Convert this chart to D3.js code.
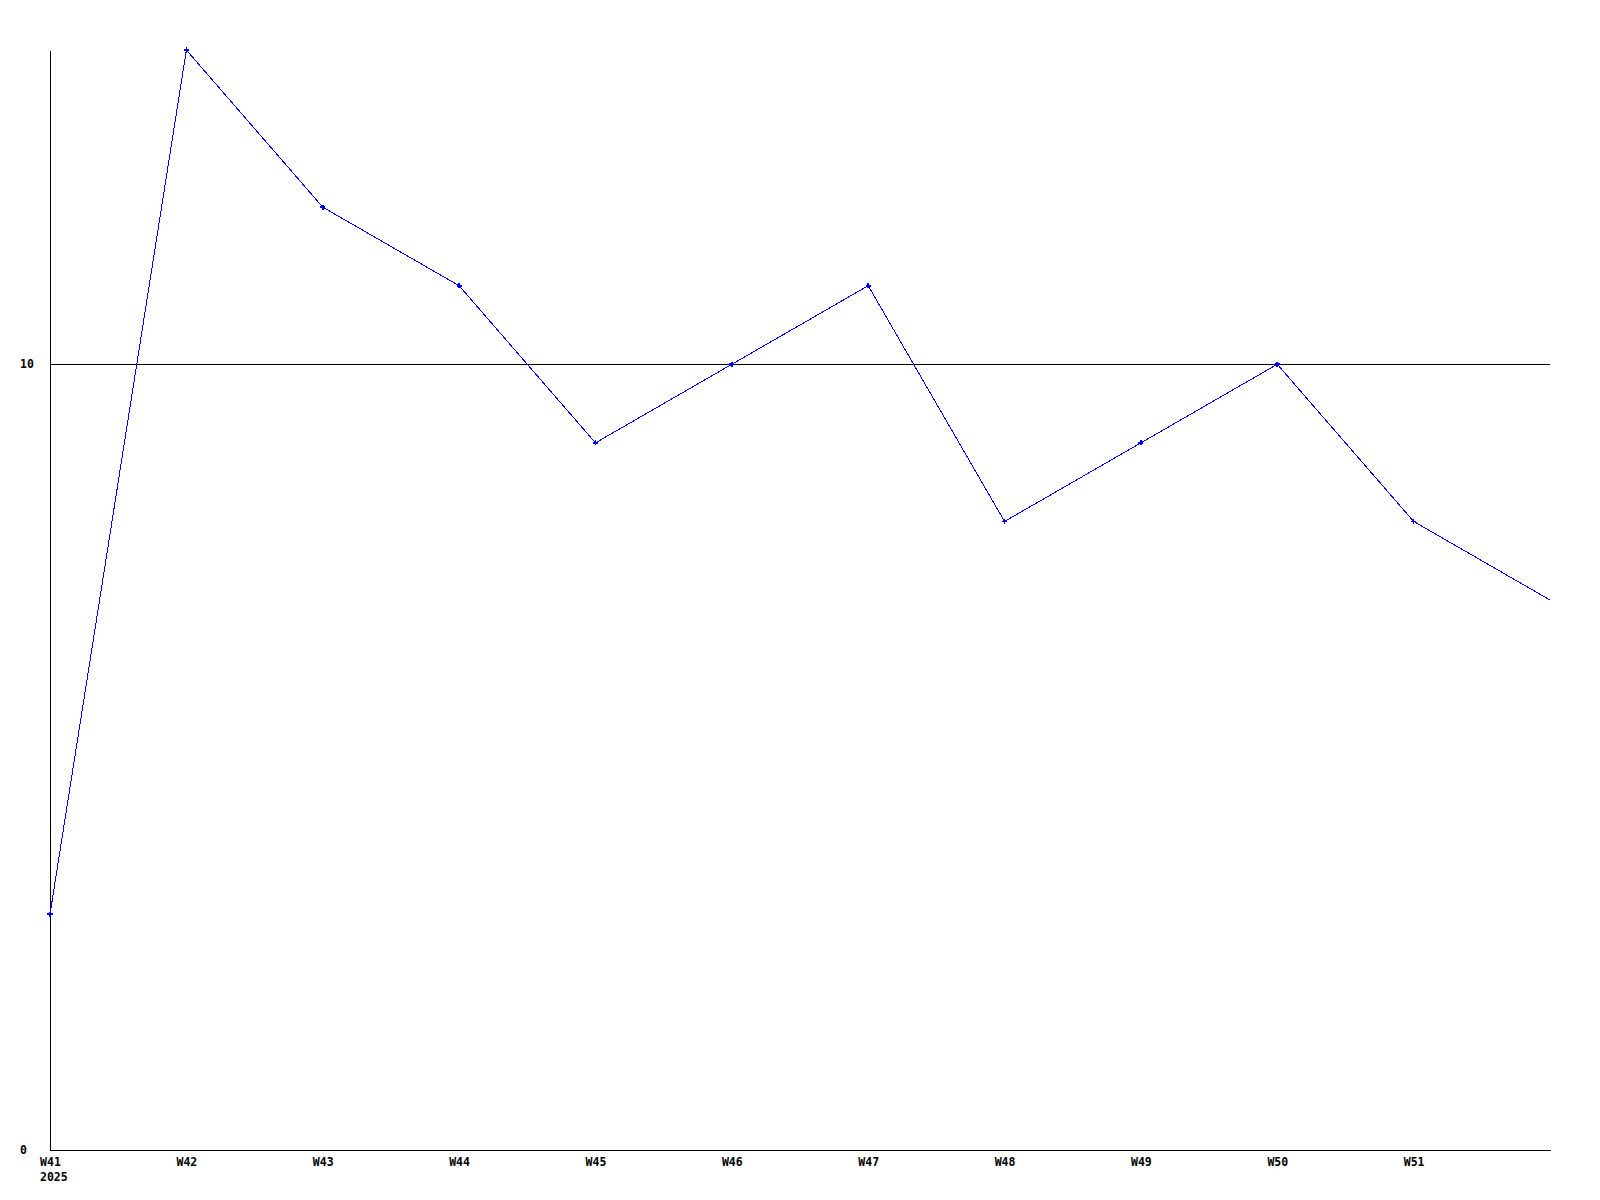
<!DOCTYPE html>
<meta charset="utf-8">
<script src="https://d3js.org/d3.v7.min.js"></script>
<style>
  body { margin: 0; background: #fff; }
  .axis text { font-family: "DejaVu Sans Mono", monospace; font-size: 11.5px; font-weight: bold; fill: #000; }
  .axis path { stroke: #000; shape-rendering: crispEdges; }
</style>
<body>
<div id="chart"></div>
<script>
  // weekly values, W52 is the last point at the right edge
  var weeks = ["W41", "W42", "W43", "W44", "W45", "W46", "W47", "W48", "W49", "W50", "W51", "W52"];
  var values = [3, 14, 12, 11, 9, 10, 11, 8, 9, 10, 8, 7];
  var weekLabels = ["W41", "W42", "W43", "W44", "W45", "W46", "W47", "W48", "W49", "W50", "W51"];
  var yTicks = [0, 10];
  var gridValues = [10];
  var yearLabel = "2025";

  var width = 1600, height = 1200;
  var margin = { top: 50, right: 50, bottom: 50, left: 50 };

  var svg = d3.select("#chart")
    .append("svg")
    .attr("width", width)
    .attr("height", height);

  var x = d3.scalePoint()
    .domain(weeks)
    .range([margin.left, width - margin.right]);

  var y = d3.scaleLinear()
    .domain([0, 14])
    .range([height - margin.bottom, margin.top]);

  // grid line at 10
  svg.append("g")
    .selectAll("line")
    .data(gridValues)
    .enter()
    .append("line")
    .attr("x1", margin.left)
    .attr("x2", width - margin.right)
    .attr("y1", function (d) { return y(d); })
    .attr("y2", function (d) { return y(d); })
    .attr("stroke", "#000")
    .attr("shape-rendering", "crispEdges");

  // x axis
  var xAxis = svg.append("g")
    .attr("class", "axis")
    .attr("transform", "translate(0," + (height - margin.bottom) + ")")
    .call(d3.axisBottom(x).tickValues(weekLabels).tickSize(0).tickSizeOuter(0).tickPadding(8));
  xAxis.selectAll(".tick text").attr("dy", "0.71em");

  svg.append("g")
    .attr("class", "axis")
    .append("text")
    .attr("x", x(weeks[0]) - 10)
    .attr("y", height - margin.bottom + 31)
    .attr("text-anchor", "start")
    .text(yearLabel);

  // y axis
  var yAxis = svg.append("g")
    .attr("class", "axis")
    .attr("transform", "translate(" + margin.left + ",0)")
    .call(d3.axisLeft(y).tickValues(yTicks).tickSize(0).tickSizeOuter(0));
  yAxis.selectAll(".tick text")
    .attr("text-anchor", "start")
    .attr("x", -30)
    .attr("dy", "0.32em");

  // line
  var line = d3.line()
    .x(function (d, i) { return x(weeks[i]); })
    .y(function (d) { return y(d); });

  svg.append("path")
    .datum(values)
    .attr("d", line)
    .attr("fill", "none")
    .attr("stroke", "#0000ff")
    .attr("stroke-width", 1)
    .attr("shape-rendering", "crispEdges");

  // markers, the one on the right edge is cut off
  svg.append("g")
    .selectAll("path")
    .data(values.slice(0, weekLabels.length))
    .enter()
    .append("path")
    .attr("d", d3.symbol().type(d3.symbolCross).size(14))
    .attr("transform", function (d, i) { return "translate(" + x(weeks[i]) + "," + y(d) + ")"; })
    .attr("fill", "#0000ff")
    .attr("shape-rendering", "crispEdges");
</script>
</body>
